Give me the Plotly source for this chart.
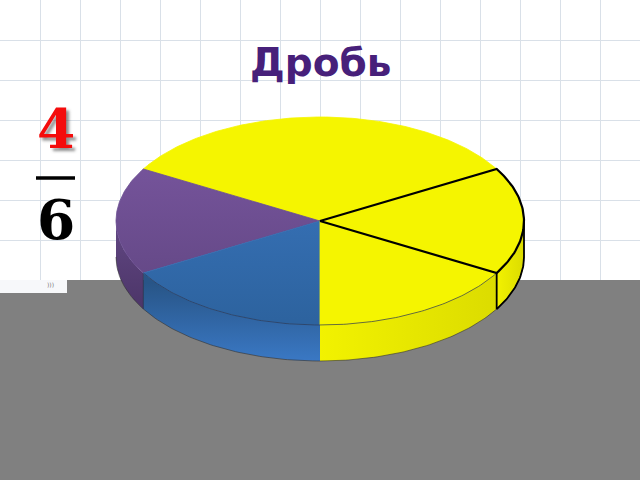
import numpy as np
import plotly.graph_objects as go

# --- data ---
slice_values = [1, 1, 1, 1, 1, 1]
slice_names = ["1/6 a", "1/6 b", "1/6 c", "1/6 d", "1/6 e", "1/6 f"]
slice_kinds = ["yellow", "yellow", "purple", "blue", "yellow", "yellow"]
title_text = "Дробь"
numerator = "4"
denominator = "6"

# --- style / geometry ---
W, H = 640, 480
CX, CY, RX, RY, DEPTH = 320, 221, 204, 104, 36
START_ANGLE = 30
top_grad = {
    "yellow": (["#f5f500", "#f5f500"]),
    "purple": (["#7c58a3", "#5f4580"]),
    "blue": (["#3c79c4", "#2d639f"]),
}
edge_color = {"yellow": "#f5f500", "purple": "#6a4c90", "blue": "#3570b2"}
side_grad = {
    "yellow": (["#f2f200", "#dcdc00"]),
    "purple": (["#5f4580", "#4c3568"]),
    "blue": (["#285587", "#3a78c4"]),
}

fractions = np.array(slice_values, dtype=float) / sum(slice_values)
edges = START_ANGLE + np.concatenate([[0], np.cumsum(fractions)]) * 360


def px(a):
    return CX + RX * np.cos(np.radians(a))


def py(a):
    return CY - RY * np.sin(np.radians(a))


fig = go.Figure()


def grad(colors, kind, start, stop):
    return dict(
        type=kind,
        start=start,
        stop=stop,
        colorscale=[[0, colors[0]], [1, colors[1]]],
    )


# side walls (only the front half of the rim is visible)
for i, k in enumerate(slice_kinds):
    a0, a1 = edges[i], edges[i + 1]
    for lo, hi in ((a0, a1), (a0 + 360, a1 + 360)):
        lo2, hi2 = max(lo, 180), min(hi, 360)
        if hi2 <= lo2:
            continue
        t = np.linspace(lo2, hi2, 60)
        xs = np.concatenate([px(t), px(t[::-1])])
        ys = np.concatenate([py(t), py(t[::-1]) + DEPTH])
        if k == "yellow":
            g = grad(side_grad[k], "horizontal", px(lo2), px(hi2))
        else:
            g = grad(side_grad[k], "vertical", py(lo2) + 10, py(hi2) + DEPTH)
        fig.add_trace(go.Scatter(x=xs, y=ys, mode="lines", fill="toself",
                                 line=dict(width=0), fillgradient=g,
                                 name=slice_names[i]))
        # thin dark bottom rim
        fig.add_trace(go.Scatter(x=px(t), y=py(t) + DEPTH, mode="lines",
                                 line=dict(color="#333333", width=0.6)))

# thin dark edge where the purple and blue walls meet
fig.add_trace(go.Scatter(x=[px(edges[3]), px(edges[3])],
                         y=[py(edges[3]), py(edges[3]) + DEPTH], mode="lines",
                         line=dict(color="#26324f", width=0.8)))

# top faces
for i, k in enumerate(slice_kinds):
    t = np.linspace(edges[i], edges[i + 1], 80)
    xs = np.concatenate([[CX], px(t), [CX]])
    ys = np.concatenate([[CY], py(t), [CY]])
    fig.add_trace(go.Scatter(
        x=xs, y=ys, mode="lines", fill="toself",
        line=dict(width=0.8, color=edge_color[k]),
        fillgradient=grad(top_grad[k], "vertical", CY - RY, CY + RY * 0.95),
        name=slice_names[i],
    ))

# thin rim on the front of the top face
t = np.linspace(210, 330, 120)
fig.add_trace(go.Scatter(x=px(t), y=py(t), mode="lines",
                         line=dict(color="#2a3550", width=0.7)))

# black outline of the slice on the right
t = np.linspace(edges[-2] - 360, edges[-1] - 360, 60)
fig.add_trace(go.Scatter(
    x=np.concatenate([[CX], px(t), [CX]]),
    y=np.concatenate([[CY], py(t), [CY]]),
    mode="lines", line=dict(color="black", width=2.2)))
t = np.linspace(edges[-2] - 360, 0, 40)
fig.add_trace(go.Scatter(
    x=np.concatenate([[px(edges[-2])], [px(edges[-2])], px(t[::1]), [px(0)]]),
    y=np.concatenate([[py(edges[-2])], [py(edges[-2]) + DEPTH], py(t) + DEPTH, [py(0)]]),
    mode="lines", line=dict(color="black", width=1.8)))

# fraction rule
fig.add_trace(go.Scatter(x=[36, 75], y=[178, 178], mode="lines",
                         line=dict(color="black", width=3.5)))

annotations = [
    dict(x=320, y=62, text=f"<b>{title_text}</b>", showarrow=False,
         font=dict(family="DejaVu Sans", size=39, color="#47207a")),
    dict(x=55.5, y=128.5, text=f"<b>{numerator}</b>", showarrow=False,
         font=dict(family="DejaVu Serif", size=55, color="#f40c0c",
                   shadow="3px 3px 3px rgba(70,70,70,0.6)")),
    dict(x=56, y=219, text=f"<b>{denominator}</b>", showarrow=False,
         font=dict(family="DejaVu Serif", size=55, color="black")),
    dict(x=50, y=284, text=")))", showarrow=False,
         font=dict(family="DejaVu Sans", size=6, color="#777777")),
]

shapes = [
    dict(type="rect", x0=0, x1=67, y0=280, y1=293, fillcolor="#f7f8fa",
         line=dict(width=0), layer="between"),
    dict(type="rect", x0=67, x1=W, y0=280, y1=H, fillcolor="#808080",
         line=dict(width=0), layer="between"),
    dict(type="rect", x0=0, x1=67, y0=293, y1=H, fillcolor="#808080",
         line=dict(width=0), layer="between"),
]

axis = dict(showticklabels=False, ticks="", zeroline=False, showgrid=True,
            gridcolor="#d9e0e8", gridwidth=1, dtick=40, tick0=0, showline=False)

fig.update_layout(
    width=W, height=H, margin=dict(l=0, r=0, t=0, b=0),
    paper_bgcolor="white", plot_bgcolor="white", showlegend=False,
    hovermode=False,
    xaxis=dict(axis, range=[0, W]),
    yaxis=dict(axis, range=[H, 0]),
    shapes=shapes, annotations=annotations,
)
fig.write_html("out.html", config={"displayModeBar": False},
               post_script="document.body.style.margin='0';document.documentElement.style.overflow='hidden';")
